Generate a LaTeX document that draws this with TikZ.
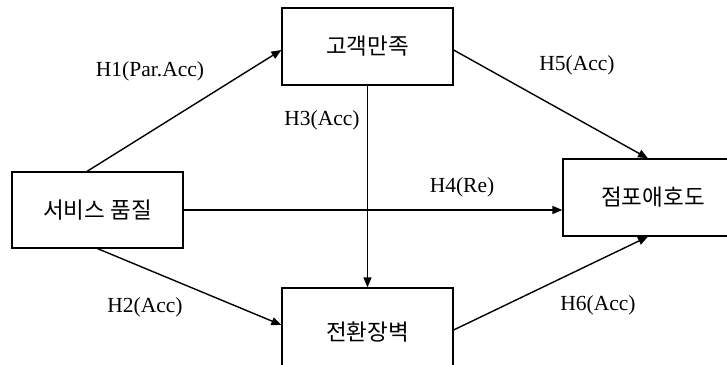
\documentclass[tikz,border=0pt]{standalone}
\usepackage{fontspec}
\setmainfont{Liberation Serif}
\newfontfamily\kfont{Noto Sans CJK KR}
\usetikzlibrary{arrows.meta}
\tikzset{
  box/.style={draw, line width=1.2pt, inner sep=0pt, font=\kfont\fontsize{22.5}{26}\selectfont},
  link/.style={line width=1.4pt, -{Triangle[length=10pt,width=8pt]}},
  lbl/.style={font=\fontsize{21.5}{25}\selectfont, inner sep=0pt}
}
\begin{document}
\begin{tikzpicture}[x=1pt,y=1pt]
\useasboundingbox (0,0) rectangle (727,364);
\clip (0,0) rectangle (727,364);
\node[box, minimum width=171pt, minimum height=76pt] (sq) at (97.5,154) {서비스 품질};
\node[box, minimum width=171pt, minimum height=77pt] (cs) at (367.5,317.5) {고객만족};
\node[box, minimum width=180pt, minimum height=77pt] (sl) at (653,166.5) {점포애호도};
\node[box, minimum width=171pt, minimum height=88pt] (sb) at (367.5,32) {전환장벽};
\draw[link] ([xshift=-10.5pt]sq.north) -- ([yshift=-3.5pt]cs.west);
\draw[link] (sq.south) -- ([yshift=7pt]sb.west);
\draw[link] (sq.east) -- (sq.east -| sl.west);
\draw[link] (cs.south) -- (sb.north);
\draw[link] ([yshift=-3.5pt]cs.east) -- ([xshift=-5pt]sl.north);
\draw[link] ([yshift=2pt]sb.east) -- ([xshift=-5pt]sl.south);
\node[lbl] (l1) at (150,293) {H1(Par.Acc)};
\node[lbl] (l3) at (322,244) {H3(Acc)};
\node[lbl] (l5) at (577,299) {H5(Acc)};
\node[lbl] (l4) at (462,177) {H4(Re)};
\node[lbl] (l2) at (145,57) {H2(Acc)};
\node[lbl] (l6) at (598,59) {H6(Acc)};
\end{tikzpicture}
\end{document}
